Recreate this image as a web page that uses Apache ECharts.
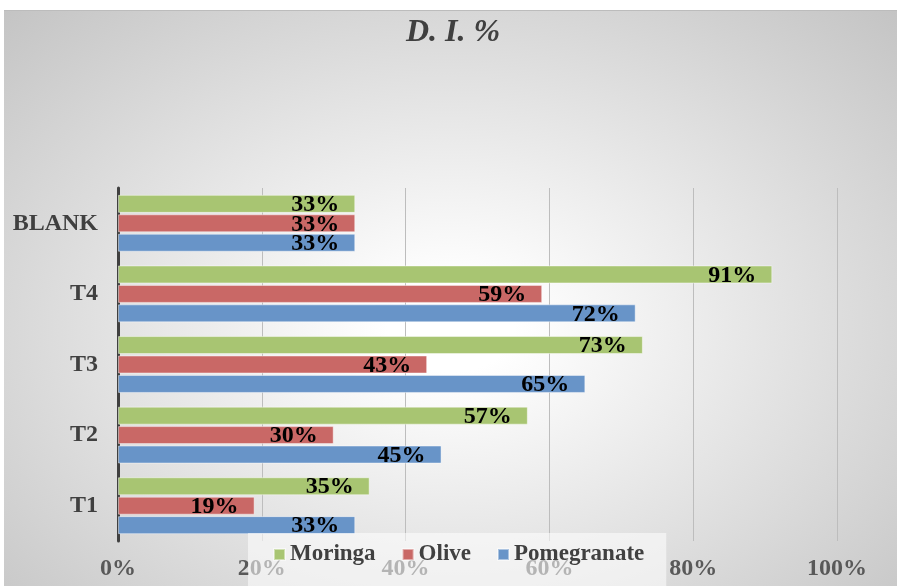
<!DOCTYPE html>
<html>
<head>
<meta charset="utf-8">
<script src="https://cdn.jsdelivr.net/npm/echarts@6/dist/echarts.min.js"></script>
<style>
    body { margin: 0; background: #fff; }
    #wrap { position: relative; width: 897px; height: 586px; }
    #bg {
        position: absolute; left: 4px; top: 10px; width: 893px; height: 576px;
        border-top: 1px solid #bcbcbc; box-sizing: border-box;
        background: radial-gradient(ellipse farthest-corner at 50% 55%, #ffffff 0%, #ffffff 10%, #c4c4c4 100%);
    }
    #main { position: absolute; left: 0; top: 0; width: 897px; height: 586px; }
</style>
</head>
<body>
<div id="wrap">
    <div id="bg"></div>
    <div id="main"></div>
</div>
<script>
    // categories bottom -> top
    var categories = ['T1', 'T2', 'T3', 'T4', 'BLANK'];
    var moringa = [35, 57, 73, 91, 33];
    var olive = [19, 30, 43, 59, 33];
    var pomegranate = [33, 45, 65, 72, 33];

    var serif = '"Liberation Serif", "Times New Roman", serif';

    function barLabel() {
        return {
            show: true,
            position: 'insideRight',
            distance: 16,
            formatter: '{c}%',
            color: '#000',
            fontFamily: serif,
            fontWeight: 'bold',
            fontSize: 24,
            offset: [0, 1]
        };
    }

    var chart = echarts.init(document.getElementById('main'));
    chart.setOption({
        backgroundColor: 'transparent',
        animation: false,
        title: {
            text: 'D. I. %',
            left: 406,
            top: 17,
            padding: 0,
            textStyle: {
                fontFamily: serif,
                fontStyle: 'italic',
                fontWeight: 'bold',
                fontSize: 32,
                color: '#404040'
            }
        },
        legend: {
            data: ['Moringa', 'Olive', 'Pomegranate'],
            left: 248,
            top: 533,
            padding: [10, 22, 20, 25],
            itemGap: 26,
            itemWidth: 11,
            itemHeight: 11,
            icon: 'rect',
            backgroundColor: 'rgba(255,255,255,0.55)',
            textStyle: {
                fontFamily: serif,
                fontWeight: 'bold',
                fontSize: 23,
                color: '#404040'
            }
        },
        grid: {
            left: 118,
            right: 60,
            top: 188,
            bottom: 45
        },
        xAxis: {
            type: 'value',
            min: 0,
            max: 100,
            interval: 20,
            axisLine: { show: false },
            axisTick: { show: false },
            splitLine: { lineStyle: { color: '#bdbdbd', width: 1 } },
            axisLabel: {
                formatter: '{value}%',
                margin: 16,
                color: '#595959',
                fontFamily: serif,
                fontWeight: 'bold',
                fontSize: 24
            }
        },
        yAxis: {
            type: 'category',
            data: categories,
            axisLine: { show: true, lineStyle: { color: '#404040', width: 3 } },
            axisTick: { show: false },
            axisLabel: {
                margin: 20,
                color: '#404040',
                fontFamily: serif,
                fontWeight: 'bold',
                fontSize: 24
            }
        },
        series: [
            {
                name: 'Moringa',
                type: 'bar',
                data: moringa,
                barWidth: 18,
                barGap: '8%',
                itemStyle: { color: '#a8c572', borderColor: 'rgba(255,255,255,0.45)', borderWidth: 1 },
                label: barLabel()
            },
            {
                name: 'Olive',
                type: 'bar',
                data: olive,
                barWidth: 18,
                barGap: '8%',
                itemStyle: { color: '#c96866', borderColor: 'rgba(255,255,255,0.45)', borderWidth: 1 },
                label: barLabel()
            },
            {
                name: 'Pomegranate',
                type: 'bar',
                data: pomegranate,
                barWidth: 18,
                barGap: '8%',
                itemStyle: { color: '#6894c8', borderColor: 'rgba(255,255,255,0.45)', borderWidth: 1 },
                label: barLabel()
            }
        ]
    });
</script>
</body>
</html>
